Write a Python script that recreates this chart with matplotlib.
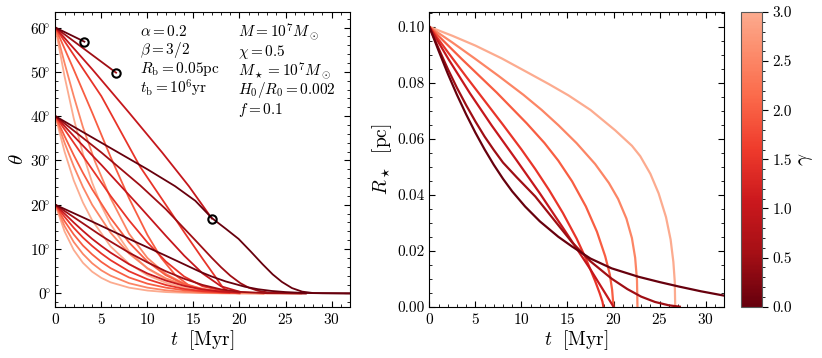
import matplotlib
matplotlib.use("Agg")
import matplotlib.pyplot as plt
import numpy as np
from matplotlib.colors import ListedColormap, Normalize
from matplotlib.ticker import MultipleLocator, FuncFormatter, FormatStrFormatter

plt.rcParams["font.family"] = "serif"
plt.rcParams["font.serif"] = ["cmr10", "DejaVu Serif"]
plt.rcParams["mathtext.fontset"] = "cm"
plt.rcParams["axes.formatter.use_mathtext"] = True

# colour parameter of every curve
gammas = [0.0, 0.5, 1.0, 1.5, 2.0, 2.5, 3.0]

# left panel: inclination theta [deg] vs t [Myr], one list per gamma, for theta0 = 60, 40, 20
t_60 = [[0, 3.16],
        [0, 6.6],
        [0, 4, 8, 11.6, 14.5, 17.0],
        [0, 5, 9.2, 12, 14, 16, 17.5, 18.2, 18.9],
        [0, 2, 4, 6, 8, 10, 11.5, 13, 14.5, 16, 20],
        [0, 1, 2, 3, 4.3, 6, 8, 10, 12, 14, 16, 18, 22.6],
        [0, 1, 2, 3, 4, 5, 6, 8, 10, 12, 14, 17, 20, 26.7]]
th_60 = [[60, 56.8],
         [60, 49.8],
         [60, 50.6, 40.8, 31.8, 24.2, 16.9],
         [60, 44.5, 28.6, 20, 13.8, 7.8, 3.4, 1.3, 0.3],
         [60, 50.5, 40.8, 30.8, 21.5, 13.2, 8, 4.2, 1.8, 0.6, 0],
         [60, 52, 44.5, 37.5, 29.8, 21.5, 13.5, 8, 4.4, 2.2, 1.0, 0.4, 0],
         [60, 49, 39.5, 31.5, 25, 19.8, 15.6, 9.5, 5.6, 3.2, 1.8, 0.7, 0.2, 0]]

t_40 = [[0, 5, 10, 13, 15.2, 17, 18.5, 19.9, 21.2, 22.5, 23.6, 24.6, 25.7, 26.8, 28, 32],
        [0, 5, 9.2, 12, 15.2, 17, 18, 19, 20.1, 21, 22, 23, 24.5, 27.2],
        [0, 2, 5, 9.2, 12, 14, 16, 18, 20],
        [0, 2, 4, 6, 8, 10, 12, 14, 16, 18.9],
        [0, 1, 2, 3, 4, 6, 8, 10, 12, 14, 16, 18, 20],
        [0, 1, 2, 3, 4, 6, 8, 10, 12, 14, 16, 18, 22.6],
        [0, 1, 2, 3, 4, 6, 8, 10, 12, 14, 16, 18, 21, 26.7]]
th_40 = [[40, 34, 28, 24.2, 20.9, 17.0, 14.6, 12.3, 9.5, 6.6, 4.3, 2.6, 1.2, 0.4, 0.08, 0],
         [40, 31.8, 24.4, 19, 12, 8.0, 5.9, 4.0, 2.3, 1.3, 0.6, 0.25, 0.07, 0],
         [40, 35.5, 29, 19.5, 13, 8.5, 4.5, 1.6, 0.4],
         [40, 34, 28, 22, 16.5, 11.5, 7.2, 3.8, 1.6, 0.3],
         [40, 35.5, 31.2, 27.2, 23.5, 17, 11.5, 7.2, 4.1, 2.1, 0.9, 0.3, 0.1],
         [40, 34, 28.7, 24, 20, 13.7, 9, 5.7, 3.4, 1.9, 0.9, 0.35, 0],
         [40, 32, 25.5, 20.5, 16.5, 10.6, 6.7, 4.1, 2.4, 1.3, 0.6, 0.25, 0.05, 0]]

t_20 = [[0, 4, 8, 12, 15.7, 17, 18.5, 20.6, 22, 23.5, 25, 27, 29, 32],
        [0, 1, 2, 3, 4, 5, 6, 8, 10, 12, 14, 16, 18, 20, 23, 27.2],
        [0, 1, 2, 3, 4, 5, 6, 8, 10, 12, 14, 16, 18, 20],
        [0, 1, 2, 3, 4, 5, 6, 8, 10, 12, 14, 16, 18.9],
        [0, 1, 2, 3, 4, 5, 6, 8, 10, 12, 14, 16, 18, 20],
        [0, 1, 2, 3, 4, 5, 6, 8, 10, 12, 14, 16, 18, 22.6],
        [0, 1, 2, 3, 4, 5, 6, 8, 10, 12, 14, 17, 20, 26.7]]
th_20 = [[20, 16.2, 12.3, 8.5, 4.9, 3.8, 2.7, 1.5, 0.95, 0.55, 0.3, 0.1, 0.03, 0],
         [20, 18.6, 17.2, 15.8, 14.4, 13.0, 11.7, 9.2, 7.0, 5.0, 3.3, 1.9, 0.9, 0.35, 0.05, 0],
         [20, 18, 16, 14.1, 12.3, 10.7, 9.2, 6.6, 4.5, 2.9, 1.7, 0.9, 0.4, 0.15],
         [20, 17.3, 14.8, 12.6, 10.7, 9.0, 7.5, 5.0, 3.2, 1.9, 1.0, 0.5, 0.15],
         [20, 16.3, 13.3, 10.8, 8.8, 7.1, 5.7, 3.6, 2.2, 1.3, 0.7, 0.35, 0.15, 0.05],
         [20, 15.2, 11.6, 8.9, 6.8, 5.2, 4.0, 2.3, 1.3, 0.7, 0.35, 0.15, 0.05, 0],
         [20, 14, 9.8, 6.9, 4.9, 3.5, 2.5, 1.3, 0.65, 0.3, 0.15, 0.05, 0, 0]]

# open circles: end points marked in the left panel
circ_t = [3.16, 6.6, 17.0]
circ_th = [56.8, 49.8, 16.9]

# right panel: stellar radius R_star [pc] vs t [Myr]
t_R = [[0, 1, 2, 3, 4, 5, 6, 7, 8, 9, 10.4, 12, 14, 15.5, 17.5, 19.8, 22.7, 25, 27.1, 29.5, 32.1],
       [0, 1, 2, 3, 4, 5, 6, 7, 8, 9.5, 11.5, 13.5, 15.5, 17.5, 19.8, 21.5, 23, 24.5, 26, 27.2],
       [0, 2.07, 4.42, 6.78, 9.5, 12, 14.75, 17.5, 20.0],
       [0, 2, 4, 6, 8, 10, 11.5, 13, 14.5, 16, 17, 18, 18.5, 18.8, 18.9],
       [0, 3.52, 7.32, 10.58, 12.5, 14, 15.5, 17, 18.2, 19.1, 19.6, 19.85, 20.0],
       [0, 2.5, 4.97, 7.5, 10.22, 12.2, 14.03, 16, 18, 19.5, 20.5, 21.4, 22.0, 22.35, 22.55, 22.6],
       [0, 2.5, 5, 7.87, 10.5, 13, 15.11, 17.5, 20.19, 22.0, 22.9, 24, 24.9, 25.7, 26.2, 26.5,
        26.65, 26.7]]
R_star = [[0.1, 0.0915, 0.0833, 0.0757, 0.0687, 0.0622, 0.0562, 0.0507, 0.0457, 0.0412, 0.0358,
           0.0305, 0.0250, 0.0215, 0.0172, 0.0137, 0.0107, 0.0088, 0.0072, 0.0055, 0.0039],
          [0.1, 0.0923, 0.0850, 0.0782, 0.0720, 0.0662, 0.0608, 0.0560, 0.0515, 0.0462, 0.0394,
           0.0312, 0.0230, 0.0162, 0.0100, 0.0063, 0.0036, 0.0017, 0.0005, 0.0],
          [0.1, 0.0885, 0.0762, 0.0647, 0.0522, 0.0405, 0.0270, 0.0133, 0.0],
          [0.1, 0.0910, 0.0822, 0.0736, 0.0650, 0.0562, 0.0492, 0.0417, 0.0335, 0.0243, 0.0172,
           0.0092, 0.0048, 0.0018, 0.0],
          [0.1, 0.0885, 0.0765, 0.0655, 0.0585, 0.0522, 0.0448, 0.0358, 0.0268, 0.0180, 0.0115,
           0.0060, 0.0],
          [0.1, 0.0944, 0.0886, 0.0825, 0.0757, 0.0703, 0.0648, 0.0584, 0.0510, 0.0442, 0.0385,
           0.0315, 0.0245, 0.0175, 0.0095, 0.0],
          [0.1, 0.0968, 0.0933, 0.0887, 0.0840, 0.0795, 0.0755, 0.0703, 0.0630, 0.0575, 0.0538,
           0.0475, 0.0405, 0.0320, 0.0240, 0.0160, 0.0090, 0.0]]

params_left = [r"$\alpha=0.2$", r"$\beta=3/2$", r"$R_{\rm b}=0.05{\rm pc}$",
               r"$t_{\rm b}=10^6{\rm yr}$"]
params_right = [r"$M=10^7M_\odot$", r"$\chi=0.5$", r"$M_\star=10^7M_\odot$",
                r"$H_0/R_0=0.002$", r"$f=0.1$"]

cmap = ListedColormap(plt.cm.Reds(np.linspace(1.0, 0.3, 256)))
norm = Normalize(0, 3)

fig = plt.figure(figsize=(8.22, 3.58), dpi=100)
axL = fig.add_axes([0.0673, 0.1433, 0.3585, 0.8232])
axR = fig.add_axes([0.5223, 0.1433, 0.3585, 0.8232])
cax = fig.add_axes([0.9015, 0.1433, 0.0252, 0.8232])

for i in reversed(range(len(gammas))):
    c = cmap(norm(gammas[i]))
    for tt, th in [(t_20, th_20), (t_40, th_40), (t_60, th_60)]:
        axL.plot(tt[i], th[i], color=c, lw=1.3, solid_joinstyle="round")
    axR.plot(t_R[i], R_star[i], color=c, lw=1.6, solid_joinstyle="round")
axL.plot(circ_t, circ_th, "o", mfc="none", mec="k", ms=6, mew=1.5, zorder=5)

for ax in (axL, axR):
    ax.set_xlim(0, 32)
    ax.xaxis.set_major_locator(MultipleLocator(5))
    ax.xaxis.set_minor_locator(MultipleLocator(1))
    ax.tick_params(which="both", direction="in", top=True, right=True, labelsize=11)
    ax.tick_params(which="major", length=4, width=0.8)
    ax.tick_params(which="minor", length=2, width=0.6)
    ax.set_xlabel(r"$t\ \ [{\rm Myr}]$", fontsize=14, labelpad=1)

axL.set_ylim(-3, 63.5)
axL.yaxis.set_major_locator(MultipleLocator(10))
axL.yaxis.set_minor_locator(MultipleLocator(2))
axL.yaxis.set_major_formatter(FuncFormatter(lambda v, p: r"$%d\!^{\circ}$" % round(v)))
axL.set_ylabel(r"$\theta$", fontsize=15, labelpad=2)

axR.set_ylim(0, 0.1053)
axR.yaxis.set_major_locator(MultipleLocator(0.02))
axR.yaxis.set_minor_locator(MultipleLocator(0.005))
axR.yaxis.set_major_formatter(FormatStrFormatter("%.2f"))
axR.set_ylabel(r"$R_\star\ \ [{\rm pc}]$", fontsize=14, labelpad=2)

ys_l = [0.933, 0.871, 0.808, 0.742]
for s, y in zip(params_left, ys_l):
    axL.text(0.287, y, s, transform=axL.transAxes, fontsize=11, va="center", ha="left")
ys_r = [0.933, 0.865, 0.801, 0.737, 0.666]
for s, y in zip(params_right, ys_r):
    axL.text(0.621, y, s, transform=axL.transAxes, fontsize=11, va="center", ha="left")

sm = plt.cm.ScalarMappable(norm=norm, cmap=cmap)
cb = fig.colorbar(sm, cax=cax)
cb.set_ticks(np.arange(0, 3.01, 0.5))
cb.ax.yaxis.set_minor_locator(MultipleLocator(0.1))
cb.ax.yaxis.set_major_formatter(FormatStrFormatter("%.1f"))
cb.ax.tick_params(which="major", length=4, labelsize=11)
cb.ax.tick_params(which="minor", length=2)
cb.outline.set_edgecolor("0.35")
cb.set_label(r"$\gamma$", fontsize=15, labelpad=4)

fig.savefig("out.png", dpi=100)
